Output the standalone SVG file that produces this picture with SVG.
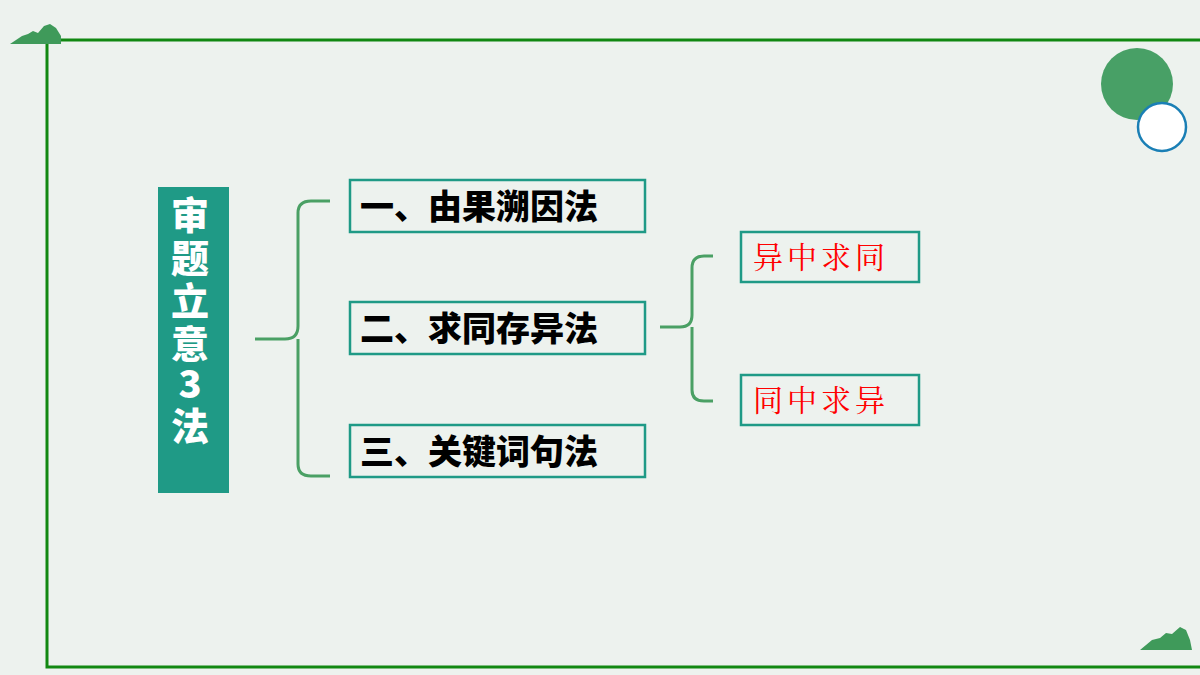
<svg xmlns="http://www.w3.org/2000/svg" width="1200" height="675" viewBox="0 0 1200 675">
<defs>
<style>
.box{fill:none;stroke:#1f9a86;stroke-width:2.5}
.bt{font-family:"Noto Sans CJK SC","Liberation Sans",sans-serif;font-weight:900;font-size:34px;fill:#000}
.rt{font-family:"Noto Serif CJK SC","Noto Sans CJK SC",serif;font-size:30px;letter-spacing:4px;fill:#ff0000}
.br{fill:none;stroke:#4aa064;stroke-width:3}
.mt{fill:#3f9a5a}
</style>
</defs>
<rect width="1200" height="675" fill="#edf2ee"/>
<path d="M1200 40 H47 V667 H1200" fill="none" stroke="#118811" stroke-width="3"/>
<g id="deco">
<path class="mt" d="M10 44 L22 36 L28 34 L33 31 L38 33 L44 26 L50 24 L56 28 L61 36 L61 44 Z"/>
<path class="mt" d="M1140 650 L1152 640 L1160 638 L1166 633 L1172 634 L1180 627 L1186 630 L1190 640 L1192 650 Z"/>
<circle cx="1137" cy="84" r="36" fill="#48a066"/>
<circle cx="1162" cy="127" r="24" fill="#fff" stroke="#1a7fb5" stroke-width="2.5"/>
</g>
<g id="title">
<rect x="158" y="187" width="71" height="306" fill="#1f9a86"/>
<g font-family="Noto Sans CJK SC,Liberation Sans,sans-serif" font-weight="900" font-size="38" fill="#fff" text-anchor="middle">
<text x="190" y="229">审</text><text x="190" y="272">题</text><text x="190" y="315">立</text><text x="190" y="358">意</text><text x="190" y="398">3</text><text x="190" y="440">法</text>
</g>
</g>
<g id="connectors">
<path class="br" d="M255 339 H285 Q298 339 298 326 V213 Q298 201 311 201 H330 M298 339 V464 Q298 476 311 476 H330"/>
<path class="br" d="M660 327 H680 Q692 327 692 315 V268 Q692 256 704 256 H713 M692 327 V390 Q692 401 704 401 H713"/>
</g>
<g id="n1"><rect class="box" x="350" y="180" width="295" height="52"/><text class="bt" x="360" y="219">一、由果溯因法</text></g>
<g id="n2"><rect class="box" x="350" y="302" width="295" height="52"/><text class="bt" x="360" y="341">二、求同存异法</text></g>
<g id="n3"><rect class="box" x="350" y="425" width="295" height="52"/><text class="bt" x="360" y="464">三、关键词句法</text></g>
<g id="n4"><rect class="box" x="741" y="232" width="178" height="50"/><text class="rt" x="753" y="268">异中求同</text></g>
<g id="n5"><rect class="box" x="741" y="375" width="178" height="50"/><text class="rt" x="753" y="411">同中求异</text></g>
</svg>
